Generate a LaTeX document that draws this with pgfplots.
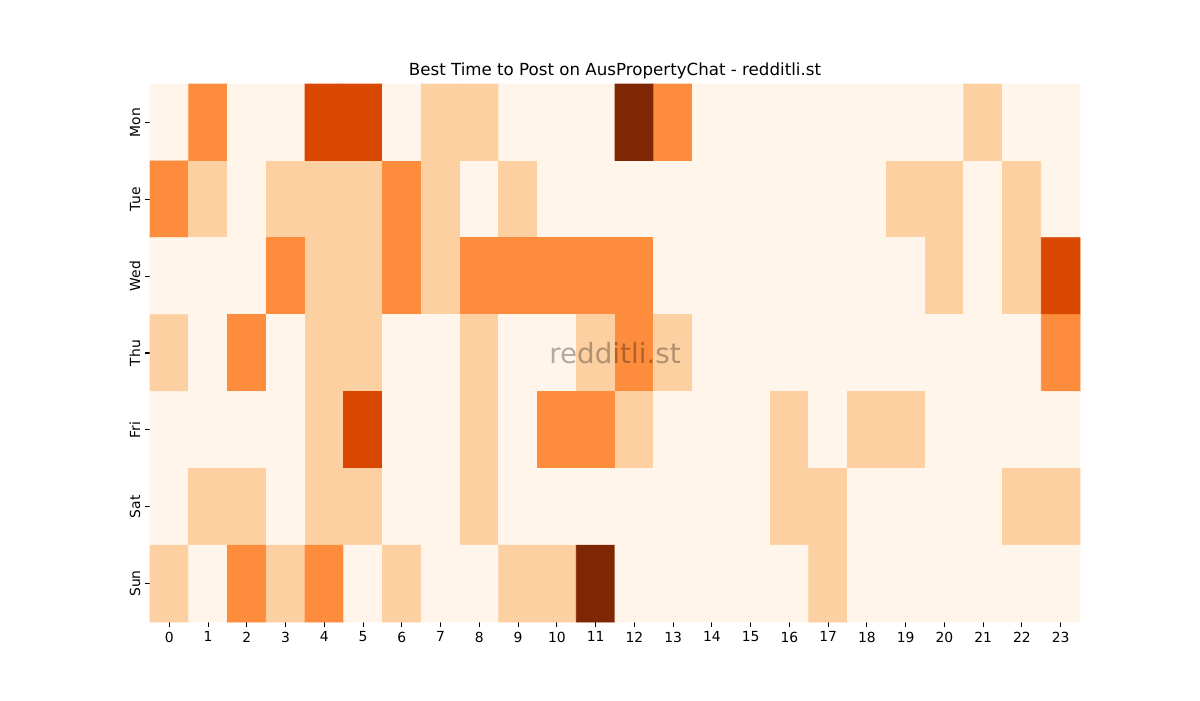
\documentclass[border=0pt]{standalone}
\usepackage{fontspec}
\setmainfont{DejaVu Sans}
\usepackage{pgfplots}
\usepackage{pgfplotstable}
\pgfplotsset{compat=1.18}
\pgfplotstableread[row sep=\\]{
x y c\\
0 0 0\\ 1 0 2\\ 2 0 0\\ 3 0 0\\ 4 0 3\\ 5 0 3\\ 6 0 0\\ 7 0 1\\ 8 0 1\\ 9 0 0\\ 10 0 0\\ 11 0 0\\ 12 0 4\\ 13 0 2\\ 14 0 0\\ 15 0 0\\ 16 0 0\\ 17 0 0\\ 18 0 0\\ 19 0 0\\ 20 0 0\\ 21 0 1\\ 22 0 0\\ 23 0 0\\
0 1 2\\ 1 1 1\\ 2 1 0\\ 3 1 1\\ 4 1 1\\ 5 1 1\\ 6 1 2\\ 7 1 1\\ 8 1 0\\ 9 1 1\\ 10 1 0\\ 11 1 0\\ 12 1 0\\ 13 1 0\\ 14 1 0\\ 15 1 0\\ 16 1 0\\ 17 1 0\\ 18 1 0\\ 19 1 1\\ 20 1 1\\ 21 1 0\\ 22 1 1\\ 23 1 0\\
0 2 0\\ 1 2 0\\ 2 2 0\\ 3 2 2\\ 4 2 1\\ 5 2 1\\ 6 2 2\\ 7 2 1\\ 8 2 2\\ 9 2 2\\ 10 2 2\\ 11 2 2\\ 12 2 2\\ 13 2 0\\ 14 2 0\\ 15 2 0\\ 16 2 0\\ 17 2 0\\ 18 2 0\\ 19 2 0\\ 20 2 1\\ 21 2 0\\ 22 2 1\\ 23 2 3\\
0 3 1\\ 1 3 0\\ 2 3 2\\ 3 3 0\\ 4 3 1\\ 5 3 1\\ 6 3 0\\ 7 3 0\\ 8 3 1\\ 9 3 0\\ 10 3 0\\ 11 3 1\\ 12 3 2\\ 13 3 1\\ 14 3 0\\ 15 3 0\\ 16 3 0\\ 17 3 0\\ 18 3 0\\ 19 3 0\\ 20 3 0\\ 21 3 0\\ 22 3 0\\ 23 3 2\\
0 4 0\\ 1 4 0\\ 2 4 0\\ 3 4 0\\ 4 4 1\\ 5 4 3\\ 6 4 0\\ 7 4 0\\ 8 4 1\\ 9 4 0\\ 10 4 2\\ 11 4 2\\ 12 4 1\\ 13 4 0\\ 14 4 0\\ 15 4 0\\ 16 4 1\\ 17 4 0\\ 18 4 1\\ 19 4 1\\ 20 4 0\\ 21 4 0\\ 22 4 0\\ 23 4 0\\
0 5 0\\ 1 5 1\\ 2 5 1\\ 3 5 0\\ 4 5 1\\ 5 5 1\\ 6 5 0\\ 7 5 0\\ 8 5 1\\ 9 5 0\\ 10 5 0\\ 11 5 0\\ 12 5 0\\ 13 5 0\\ 14 5 0\\ 15 5 0\\ 16 5 1\\ 17 5 1\\ 18 5 0\\ 19 5 0\\ 20 5 0\\ 21 5 0\\ 22 5 1\\ 23 5 1\\
0 6 1\\ 1 6 0\\ 2 6 2\\ 3 6 1\\ 4 6 2\\ 5 6 0\\ 6 6 1\\ 7 6 0\\ 8 6 0\\ 9 6 1\\ 10 6 1\\ 11 6 4\\ 12 6 0\\ 13 6 0\\ 14 6 0\\ 15 6 0\\ 16 6 0\\ 17 6 1\\ 18 6 0\\ 19 6 0\\ 20 6 0\\ 21 6 0\\ 22 6 0\\ 23 6 0\\
}\heat
\begin{document}
\begin{tikzpicture}
\path[use as bounding box] (-108pt,-56.16pt) rectangle (756pt,447.84pt);
\begin{axis}[
  at={(0,0)}, anchor=south west,
  scale only axis, width=669.6pt, height=387.36pt,
  xmin=-0.5, xmax=23.5, ymin=-0.5, ymax=6.5,
  y dir=reverse,
  axis line style={draw=none},
  xtick={0,...,23},
  ytick={0,...,6},
  yticklabels={Mon,Tue,Wed,Thu,Fri,Sat,Sun},
  yticklabel style={rotate=90, anchor=south},
  xtick pos=bottom, ytick pos=left,
  tick align=outside,
  major tick length=3.5pt,
  tick style={black, line width=0.8pt},
  ticklabel style={font=\fontsize{10}{12}\selectfont},
  /pgf/number format/assume math mode=true,
  colormap={oranges}{rgb255=(255,245,235) rgb255=(253,208,162) rgb255=(253,141,60) rgb255=(217,72,1) rgb255=(127,39,4)},
  point meta min=0, point meta max=4,
  clip=false,
]
\addplot[matrix plot*, mesh/cols=24, mesh/rows=7, point meta=explicit] table[x=x, y=y, meta=c] {\heat};
\node[text=black, opacity=0.3, font=\fontsize{20}{24}\selectfont] at (rel axis cs:0.5,0.5) {redditli.st};
\node[anchor=base, font=\fontsize{12}{14}\selectfont, yshift=6pt] at (rel axis cs:0.5,1) {Best Time to Post on AusPropertyChat - redditli.st};
\end{axis}
\end{tikzpicture}
\end{document}
